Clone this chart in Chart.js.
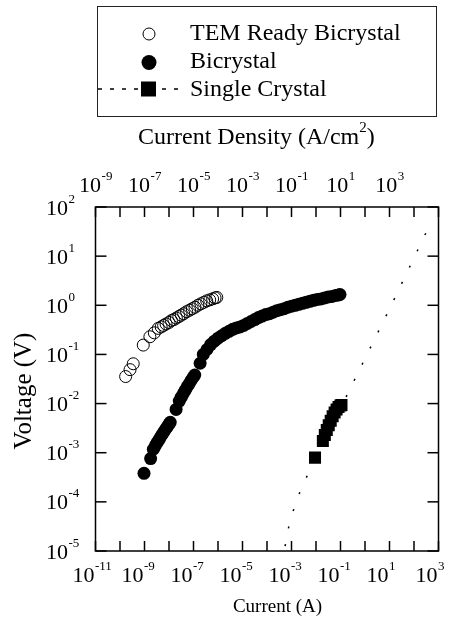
<!DOCTYPE html>
<html><head><meta charset="utf-8">
<script src="https://cdn.jsdelivr.net/npm/chart.js@4.4.0/dist/chart.umd.min.js"></script>
<style>html,body{margin:0;padding:0;background:#fff;}#wrap{width:455px;height:628px;position:relative;}</style>
</head><body><div id="wrap"><canvas id="c" width="455" height="628"></canvas></div>
<script>
// Values are log10 of current (A) and log10 of voltage (V)
const temLogCurrent = [-9.77,-9.59,-9.46,-9.05,-8.78,-8.60,-8.44,-8.32,-8.22,-8.12,-8.00,-7.90,-7.80,-7.70,-7.60,-7.50,-7.40,-7.28,-7.16,-7.05,-6.94,-6.82,-6.70,-6.58,-6.46,-6.34,-6.22,-6.12,-6.05];
const temLogVoltage = [-1.45,-1.31,-1.19,-0.81,-0.64,-0.56,-0.47,-0.44,-0.41,-0.38,-0.35,-0.31,-0.29,-0.26,-0.23,-0.20,-0.17,-0.13,-0.10,-0.07,-0.04,0.00,0.03,0.06,0.09,0.11,0.13,0.15,0.16];

const biLogCurrent = [-9.02,-8.75,
 -8.64,-8.56,-8.48,-8.40,-8.32,-8.24,-8.16,-8.08,-8.00,-7.95,
 -7.71,
 -7.58,-7.50,-7.42,-7.34,-7.26,-7.18,-7.10,-7.02,-6.95,
 -6.73,-6.60,-6.45,-6.30,-6.15,-6.00,-5.85,-5.70,-5.55,-5.40,-5.25,-5.10,-4.95,-4.80,-4.65,-4.50,-4.35,-4.20,-4.05,-3.90,-3.75,-3.60,-3.45,-3.30,-3.15,-3.00,-2.85,-2.70,-2.55,-2.40,-2.25,-2.10,-1.95,-1.80,-1.65,-1.50,-1.35,-1.20,-1.08,-1.02];
const biLogVoltage = [-3.42,-3.12,
 -2.93,-2.86,-2.79,-2.73,-2.66,-2.60,-2.54,-2.48,-2.42,-2.38,
 -2.12,
 -1.95,-1.87,-1.80,-1.73,-1.66,-1.60,-1.53,-1.47,-1.42,
 -1.18,-1.00,-0.90,-0.80,-0.73,-0.67,-0.62,-0.57,-0.53,-0.49,-0.46,-0.44,-0.41,-0.37,-0.33,-0.29,-0.25,-0.22,-0.19,-0.17,-0.14,-0.11,-0.09,-0.07,-0.04,-0.02,0.00,0.02,0.04,0.06,0.08,0.10,0.12,0.13,0.15,0.17,0.18,0.20,0.21,0.22];

const scLogCurrent = [-2.04,-1.72,-1.64,-1.56,-1.48,-1.40,-1.32,-1.24,-1.16,-1.08,-1.00,-0.96];
const scLogVoltage = [-3.10,-2.76,-2.64,-2.54,-2.44,-2.35,-2.26,-2.18,-2.12,-2.07,-2.04,-2.03];

const fitLogCurrent = [-3.26,-3.17,-2.99,-2.79,-2.52,-2.22,-0.61,1.02,2.58];
const fitLogVoltage = [-4.90,-4.62,-4.28,-3.96,-3.64,-3.32,-1.70,-0.055,1.57];

const xTickExps = [-11,-9,-7,-5,-3,-1,1,3];
const topTickExps = [-9,-7,-5,-3,-1,1,3];
const yTickExps = [-5,-4,-3,-2,-1,0,1,2];

const seriesNames = ['TEM Ready Bicrystal','Bicrystal','Single Crystal'];

function pts(lx, ly){ return lx.map((v,i)=>({x:Math.pow(10,v), y:Math.pow(10,ly[i])})); }

const SERIF = '"Liberation Serif", "Times New Roman", serif';

function pow10(ctx, exp, x, baseline, mode){
  ctx.font = '22px ' + SERIF; const w1 = ctx.measureText('10').width;
  ctx.font = '13px ' + SERIF; const w2 = ctx.measureText(exp).width;
  let x0;
  if (mode === 'center') x0 = x - (w1 + w2) / 2;
  else if (mode === 'left') x0 = x;
  else x0 = x - w1;
  ctx.textAlign = 'left'; ctx.textBaseline = 'alphabetic';
  ctx.font = '22px ' + SERIF; ctx.fillText('10', x0, baseline);
  ctx.font = '13px ' + SERIF; ctx.fillText(exp, x0 + w1 + 0.5, baseline - 12);
}

function seg(ctx, x1, y1, x2, y2){ ctx.beginPath(); ctx.moveTo(x1,y1); ctx.lineTo(x2,y2); ctx.stroke(); }

const decor = {
  id: 'decor',
  afterDatasetsDraw(chart){
    const ctx = chart.ctx, a = chart.chartArea;
    const sx = chart.scales.x, sy = chart.scales.y, sx2 = chart.scales.x2;
    ctx.save();
    ctx.fillStyle = '#000'; ctx.strokeStyle = '#000';
    // frame
    ctx.lineWidth = 1.5;
    ctx.strokeRect(a.left, a.top, a.right - a.left, a.bottom - a.top);
    // ticks every decade, inward
    for (let e = -11; e <= 3; e++) {
      const px = sx.getPixelForValue(Math.pow(10, e));
      seg(ctx, px, a.bottom, px, a.bottom - 10);
    }
    for (let e = -9; e <= 5; e++) {
      const px = sx2.getPixelForValue(Math.pow(10, e));
      seg(ctx, px, a.top, px, a.top + 10);
    }
    for (let e = -5; e <= 2; e++) {
      const py = sy.getPixelForValue(Math.pow(10, e));
      seg(ctx, a.left, py, a.left + 11, py);
      seg(ctx, a.right, py, a.right - 11, py);
    }
    // tick labels
    yTickExps.forEach(e => {
      const py = sy.getPixelForValue(Math.pow(10, e));
      pow10(ctx, String(e), 46, py + 7.5, 'left');
    });
    xTickExps.forEach(e => {
      const px = sx.getPixelForValue(Math.pow(10, e));
      pow10(ctx, String(e), px - 1, 582, 'baseRight');
    });
    topTickExps.forEach(e => {
      const px = sx2.getPixelForValue(Math.pow(10, e));
      pow10(ctx, String(e), px, 191.5, 'center');
    });
    // top title
    ctx.textAlign = 'left'; ctx.textBaseline = 'alphabetic';
    ctx.font = '24px ' + SERIF;
    let tx = 138;
    const t1 = 'Current Density (A/cm';
    ctx.fillText(t1, tx, 144); tx += ctx.measureText(t1).width;
    ctx.font = '15px ' + SERIF; ctx.fillText('2', tx, 132); tx += ctx.measureText('2').width;
    ctx.font = '24px ' + SERIF; ctx.fillText(')', tx, 144);
    // bottom title
    ctx.font = '19px ' + SERIF; ctx.textAlign = 'center';
    ctx.fillText('Current (A)', 277.5, 612);
    // y title
    ctx.save();
    ctx.translate(31, 391); ctx.rotate(-Math.PI / 2);
    ctx.font = '25px ' + SERIF; ctx.textAlign = 'center';
    ctx.fillText('Voltage (V)', 0, 0);
    ctx.restore();
    // legend
    ctx.lineWidth = 1; ctx.strokeStyle = '#222';
    ctx.strokeRect(97.5, 6.5, 339, 110);
    ctx.strokeStyle = '#000';
    ctx.beginPath(); ctx.arc(149, 34, 6, 0, Math.PI * 2); ctx.stroke();
    ctx.beginPath(); ctx.arc(149, 62.5, 7.5, 0, Math.PI * 2); ctx.fill();
    ctx.fillRect(141, 81.5, 15, 15);
    ctx.lineWidth = 1.5; ctx.setLineDash([4, 8]);
    seg(ctx, 98, 89, 138, 89);
    seg(ctx, 162, 89, 186, 89);
    ctx.setLineDash([]);
    ctx.font = '24px ' + SERIF; ctx.textAlign = 'left';
    ctx.fillText(seriesNames[0], 190, 40);
    ctx.fillText(seriesNames[1], 190, 68);
    ctx.fillText(seriesNames[2], 190, 96);
    ctx.restore();
  }
};

new Chart(document.getElementById('c'), {
  type: 'scatter',
  data: {
    datasets: [
      { label: seriesNames[0], data: pts(temLogCurrent, temLogVoltage), pointStyle: 'circle', pointRadius: 6,
        borderWidth: 1, borderColor: '#000', backgroundColor: 'rgba(0,0,0,0)' },
      { label: seriesNames[1], data: pts(biLogCurrent, biLogVoltage), pointStyle: 'circle', pointRadius: 6.5,
        borderWidth: 0, borderColor: '#000', backgroundColor: '#000' },
      { label: seriesNames[2], data: pts(scLogCurrent, scLogVoltage), pointStyle: 'rect', pointRadius: 8.5,
        borderWidth: 0, borderColor: '#000', backgroundColor: '#000' },
      { label: 'fit', data: pts(fitLogCurrent, fitLogVoltage), showLine: true, pointRadius: 0,
        borderColor: '#000', borderWidth: 1.5, borderDash: [2, 16], fill: false, tension: 0 }
    ]
  },
  options: {
    responsive: false, animation: false, devicePixelRatio: 1,
    layout: { padding: { left: 95.5, right: 16.5, top: 207, bottom: 77 } },
    plugins: { legend: { display: false }, tooltip: { enabled: false } },
    scales: {
      x: { type: 'logarithmic', min: 1e-11, max: 1e3, display: false },
      x2: { type: 'logarithmic', axis: 'x', position: 'top', min: 1e-9, max: 1e5, display: false },
      y: { type: 'logarithmic', min: 1e-5, max: 1e2, display: false }
    }
  },
  plugins: [decor]
});
</script>
</body></html>
